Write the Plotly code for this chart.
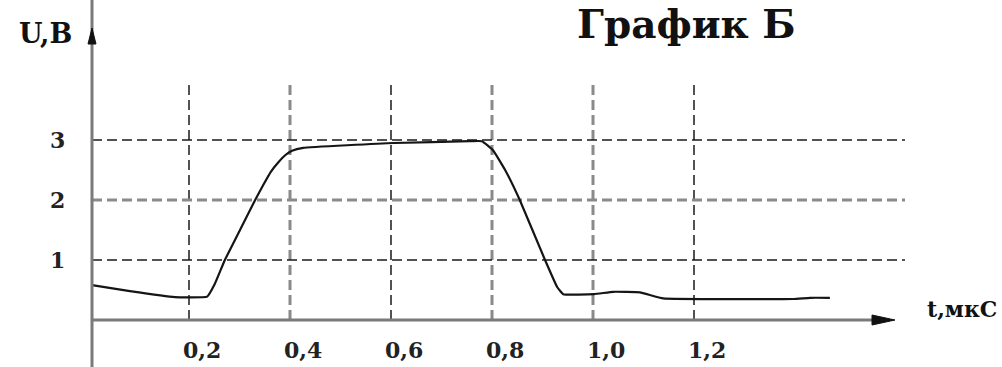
import plotly.graph_objects as go

# ---- data ----
t_us = [0.008, 0.083, 0.172, 0.236, 0.251, 0.271, 0.301, 0.331, 0.347, 0.362,
        0.377, 0.391, 0.404, 0.426, 0.606, 0.756, 0.780, 0.802, 0.826, 0.855,
        0.905, 0.929, 0.941, 1.002, 1.040, 1.093, 1.139, 1.396, 1.430, 1.469]
u_volts = [0.58, 0.48, 0.38, 0.39, 0.60, 1.00, 1.50, 2.00, 2.25, 2.47,
           2.63, 2.75, 2.82, 2.87, 2.95, 2.98, 2.98, 2.83, 2.50, 2.00,
           1.00, 0.55, 0.43, 0.43, 0.47, 0.46, 0.36, 0.35, 0.37, 0.37]
x_ticks = [0.2, 0.4, 0.6, 0.8, 1.0, 1.2]
x_tick_labels = ["0,2", "0,4", "0,6", "0,8", "1,0", "1,2"]
y_ticks = [1, 2, 3]
y_tick_labels = ["1", "2", "3"]
title_text = "График Б"
y_label = "U,B"
x_label = "t,мкС"

# ---- geometry (pixels -> data) ----
W, H = 1002, 367
X0PX, XSCALE = 88.0, 505.0      # px of t=0, px per 1 us
Y0PX, YSCALE = 320.0, 60.0      # px of U=0, px per 1 V
def tx(px):
    return (px - X0PX) / XSCALE
def uy(py):
    return (Y0PX - py) / YSCALE

AXIS_T = tx(92)
FONT = "DejaVu Serif"
gray_grid_x = {0.4, 0.8, 1.0}
gray_grid_y = {2}

fig = go.Figure()
fig.add_trace(go.Scatter(x=t_us, y=u_volts, mode="lines",
                         line=dict(color="#151515", width=2.2, shape="spline", smoothing=0.3),
                         hoverinfo="skip", showlegend=False))

shapes = []
# grid lines
for xv in x_ticks:
    g = xv in gray_grid_x
    shapes.append(dict(type="line", xref="x", yref="y", x0=xv, x1=xv, y0=0, y1=uy(80),
                       line=dict(color="#8a8a8a" if g else "#1a1a1a",
                                 width=3 if g else 1.5, dash="10px,5px"), layer="below"))
for yv in y_ticks:
    g = yv in gray_grid_y
    shapes.append(dict(type="line", xref="x", yref="y", x0=AXIS_T, x1=tx(905), y0=yv, y1=yv,
                       line=dict(color="#8a8a8a" if g else "#1a1a1a",
                                 width=3 if g else 1.5, dash="10px,5px"), layer="below"))
# axes
shapes.append(dict(type="line", xref="x", yref="y", x0=AXIS_T, x1=AXIS_T, y0=uy(H + 5), y1=uy(-5),
                   line=dict(color="#7a7a7a", width=3)))
shapes.append(dict(type="line", xref="x", yref="y", x0=AXIS_T, x1=tx(878), y0=0, y1=0,
                   line=dict(color="#7a7a7a", width=3)))
# arrowheads
shapes.append(dict(type="path", xref="x", yref="y",
                   path=f"M {tx(88)},{uy(44)} L {tx(92)},{uy(28)} L {tx(96)},{uy(44)} Z",
                   fillcolor="#111", line=dict(color="#111", width=1)))
shapes.append(dict(type="path", xref="x", yref="y",
                   path=f"M {tx(872)},{uy(315)} L {tx(895)},{uy(320)} L {tx(872)},{uy(325)} Z",
                   fillcolor="#111", line=dict(color="#111", width=1)))

annotations = []
for yv, lab in zip(y_ticks, y_tick_labels):
    annotations.append(dict(x=tx(57), y=yv, xref="x", yref="y", text=f"<b>{lab}</b>",
                            showarrow=False, xanchor="center", yanchor="middle",
                            font=dict(family=FONT, size=22, color="#222")))
for xv, lab in zip(x_ticks, x_tick_labels):
    annotations.append(dict(x=xv, y=uy(350), xref="x", yref="y", text=f"<b>{lab}</b>",
                            showarrow=False, xanchor="left", yanchor="middle", xshift=-8,
                            font=dict(family=FONT, size=22, color="#222")))
annotations.append(dict(x=tx(45), y=uy(33), xref="x", yref="y", text=f"<b>{y_label}</b>",
                        showarrow=False, xanchor="center", yanchor="middle",
                        font=dict(family=FONT, size=27, color="#111")))
annotations.append(dict(x=tx(962), y=uy(309), xref="x", yref="y", text=f"<b>{x_label}</b>",
                        showarrow=False, xanchor="center", yanchor="middle",
                        font=dict(family=FONT, size=22, color="#111")))
annotations.append(dict(x=tx(686), y=uy(24), xref="x", yref="y", text=f"<b>{title_text}</b>",
                        showarrow=False, xanchor="center", yanchor="middle", borderpad=0,
                        font=dict(family=FONT, size=39, color="#111")))

fig.update_layout(
    width=W, height=H,
    margin=dict(l=0, r=0, t=0, b=0),
    paper_bgcolor="white", plot_bgcolor="white",
    xaxis=dict(range=[tx(0), tx(W)], visible=False, fixedrange=True),
    yaxis=dict(range=[uy(H), uy(0)], visible=False, fixedrange=True),
    shapes=shapes, annotations=annotations, showlegend=False,
)
fig.write_html("out.html", config={"displayModeBar": False},
               post_script="document.body.style.margin='0';document.body.style.overflow='hidden';")
